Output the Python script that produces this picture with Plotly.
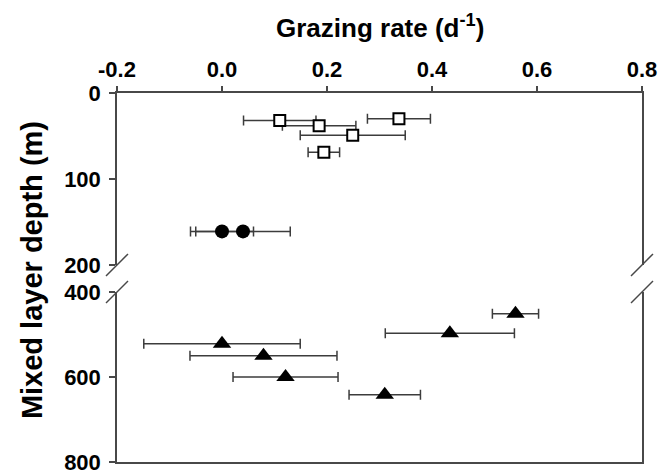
import plotly.graph_objects as go

# ---- data ----
sq_x = [0.11, 0.185, 0.337, 0.249, 0.194]
sq_y = [32, 38, 30, 49, 69]
sq_err = [0.069, 0.070, 0.060, 0.100, 0.030]

ci_x = [0.0, 0.04]
ci_y = [161, 161]
ci_err = [0.060, 0.090]

tr_x = [0.0, 0.079, 0.121, 0.31, 0.559, 0.434]
tr_y = [522, 550, 600, 642, 451, 497]
tr_err = [0.149, 0.140, 0.100, 0.068, 0.044, 0.123]

x_ticks = [-0.2, 0.0, 0.2, 0.4, 0.6, 0.8]
x_ticktext = ["-0.2", "0.0", "0.2", "0.4", "0.6", "0.8"]
y_top_ticks = [0, 100, 200]
y_bot_ticks = [400, 600, 800]

# ---- style ----
FONT = "Liberation Sans"
AX = "#484848"
ERR = "#3c3c3c"
W, H = 670, 474
ML, MR, MT, MB = 117, 28, 93, 12
TOP_DOM = [0.534, 1.0]
BOT_DOM = [0.0, 0.4607]

fig = go.Figure()

def errx(vals):
    return dict(type="data", array=vals, visible=True, color=ERR, thickness=1.5, width=5)

fig.add_trace(go.Scatter(x=sq_x, y=sq_y, mode="markers", xaxis="x", yaxis="y",
                         error_x=errx(sq_err),
                         marker=dict(symbol="square", size=11, color="white",
                                     line=dict(color="black", width=2)),
                         showlegend=False))
fig.add_trace(go.Scatter(x=ci_x, y=ci_y, mode="markers", xaxis="x", yaxis="y",
                         error_x=errx(ci_err),
                         marker=dict(symbol="circle", size=14, color="black"),
                         showlegend=False))
fig.add_trace(go.Scatter(x=tr_x, y=tr_y, mode="markers", xaxis="x2", yaxis="y2",
                         error_x=errx(tr_err),
                         marker=dict(symbol="triangle-up", size=16, color="black"),
                         showlegend=False))

tickfont = dict(family=FONT, size=22, color="black", weight="bold")
common = dict(showgrid=False, zeroline=False, automargin=False, ticklabeloverflow="allow")

fig.update_layout(
    width=W, height=H,
    margin=dict(l=ML, r=MR, t=MT, b=MB, autoexpand=False),
    plot_bgcolor="white", paper_bgcolor="white",
    xaxis=dict(domain=[0, 1], range=[-0.2, 0.8], side="top", anchor="y",
               showline=True, linecolor=AX, linewidth=1.5,
               ticks="outside", ticklen=5, tickcolor=AX, tickwidth=1.5,
               tickvals=x_ticks, ticktext=x_ticktext, tickfont=tickfont,
               ticklabelstandoff=0, **common),
    xaxis2=dict(domain=[0, 1], range=[-0.2, 0.8], anchor="y2", side="bottom",
                showline=True, linecolor=AX, linewidth=1.5,
                showticklabels=False, ticks="", **common),
    yaxis=dict(domain=TOP_DOM, range=[200, 0], anchor="x",
               showline=True, mirror=True, linecolor=AX, linewidth=1.5,
               ticks="outside", ticklen=6, tickcolor=AX, tickwidth=1.5,
               tickvals=y_top_ticks, tickfont=tickfont, ticklabelstandoff=4,
               **common),
    yaxis2=dict(domain=BOT_DOM, range=[800, 400], anchor="x2",
                showline=True, mirror=True, linecolor=AX, linewidth=1.5,
                ticks="outside", ticklen=6, tickcolor=AX, tickwidth=1.5,
                tickvals=y_bot_ticks, tickfont=tickfont, ticklabelstandoff=4,
                **common),
    yaxis3=dict(overlaying="y", side="right", anchor="x", range=[200, 0],
                ticks="inside", ticklen=6, tickcolor=AX, tickwidth=1.5,
                tickvals=[100], showticklabels=False, showline=False, **common),
    yaxis4=dict(overlaying="y2", side="right", anchor="x2", range=[800, 400],
                ticks="inside", ticklen=6, tickcolor=AX, tickwidth=1.5,
                tickvals=[600], showticklabels=False, showline=False, **common),
)

# axis titles
plot_w = W - ML - MR
plot_h = H - MT - MB
fig.add_annotation(text="Grazing rate (d<sup>-1</sup>)", xref="paper", yref="paper",
                   x=0.5, y=1 + (MT - 26) / plot_h, xanchor="center", yanchor="middle",
                   showarrow=False, font=dict(family=FONT, size=26, color="black", weight="bold"))
fig.add_annotation(text="Mixed layer depth (m)", xref="paper", yref="paper",
                   x=-(ML - 32) / plot_w, y=0.52, xanchor="center", yanchor="middle",
                   textangle=-90, showarrow=False,
                   font=dict(family=FONT, size=29, color="black", weight="bold"))

# axis-break slashes
dx = 11 / plot_w
dy = 11 / plot_h
for xc in (0.0, 1.0):
    for yc in (TOP_DOM[0], BOT_DOM[1]):
        fig.add_shape(type="line", xref="paper", yref="paper",
                      x0=xc - dx, y0=yc - dy, x1=xc + dx, y1=yc + dy,
                      line=dict(color=AX, width=1.5))

fig.write_html("out.html", config={"displayModeBar": False},
               post_script="document.body.style.margin='0';")
